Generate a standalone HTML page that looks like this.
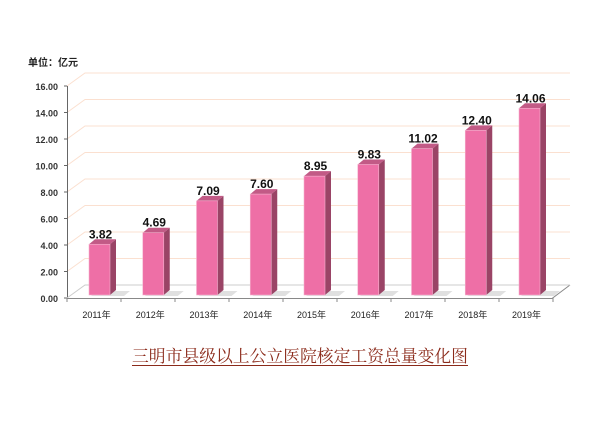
<!DOCTYPE html>
<html><head><meta charset="utf-8"><style>
html,body{margin:0;padding:0;background:#fff;width:600px;height:427px;overflow:hidden}
svg{display:block}
</style></head><body>
<svg width="600" height="427" viewBox="0 0 600 427" xmlns="http://www.w3.org/2000/svg" font-family="Liberation Sans, Noto Sans CJK SC, sans-serif">
<text x="28" y="66" font-size="10" font-weight="bold" fill="#222">单位：亿元</text>
<g stroke="#fbe0d0" stroke-width="1" fill="none" id="grid"></g>
<g id="ax"></g>
<g id="bars"></g>
<text x="300" y="362" text-anchor="middle" font-size="16.8" fill="#8b2a1a" font-family="Liberation Serif, Noto Serif CJK SC, serif" textLength="336" lengthAdjust="spacingAndGlyphs">三明市县级以上公立医院核定工资总量变化图</text>
<line x1="132" y1="365.5" x2="468" y2="365.5" stroke="#8b2a1a" stroke-width="1"/>
<script>
(function(){
var ns="http://www.w3.org/2000/svg";
function el(p,t,a,txt){var e=document.createElementNS(ns,t);for(var k in a)e.setAttribute(k,a[k]);if(txt)e.textContent=txt;p.appendChild(e);return e;}
var g=document.getElementById('grid'),ax=document.getElementById('ax'),b=document.getElementById('bars');
var s=13.25,y0=298;
for(var i=1;i<=8;i++){var y=y0-i*2*s;
 el(g,'polyline',{points:"67,"+y+" 85,"+(y-13)+" 570,"+(y-13)});
}
el(ax,'line',{x1:67.5,y1:86,x2:67.5,y2:298,stroke:'#666'});
for(var i=0;i<=8;i++){var y=y0-i*2*s;
 el(ax,'line',{x1:64,y1:y,x2:67,y2:y,stroke:'#666'});
 el(ax,'text',{x:58,y:y+4,'font-size':9,'font-weight':'bold','text-anchor':'end',fill:'#333'},(i*2).toFixed(2));
}
el(ax,'polyline',{points:"67,298.5 552,298.5 570,285",stroke:'#888',fill:'none'});
el(ax,'polyline',{points:"67,298 85,285 570,285",stroke:'#ccc',fill:'none'});
for(var i=0;i<=9;i++){var x=67+i*54;el(ax,'line',{x1:x,y1:298,x2:x,y2:302,stroke:'#888'});}
var v=[3.82,4.69,7.09,7.60,8.95,9.83,11.02,12.40,14.06];
var yb=295,sc=13.28;
for(var i=0;i<9;i++){
 var x=89+i*53.75,w=21,dx=6,dy=5,ty=yb-v[i]*sc;
 el(b,'polygon',{points:(x+2)+","+(yb+1)+" "+(x+w+dx+8)+","+(yb+1)+" "+(x+w+dx+14)+","+(yb-4)+" "+(x+dx+4)+","+(yb-4),fill:'#ccc',opacity:0.6});
 el(b,'polygon',{points:(x+w)+","+ty+" "+(x+w+dx)+","+(ty-dy)+" "+(x+w+dx)+","+(yb-dy)+" "+(x+w)+","+yb,fill:'#9a4466'});
 el(b,'polygon',{points:x+","+ty+" "+(x+dx)+","+(ty-dy)+" "+(x+w+dx)+","+(ty-dy)+" "+(x+w)+","+ty,fill:'#c25a86'});
 el(b,'rect',{x:x,y:ty,width:w,height:yb-ty,fill:'#ee6fa6',stroke:'#f4b3cf','stroke-width':0.6});
 el(b,'text',{x:x+w/2+1,y:ty-6,'font-size':12,'font-weight':'bold','text-anchor':'middle',fill:'#111'},v[i].toFixed(2));
 el(b,'text',{x:x+w/2-3,y:318,'font-size':9,'text-anchor':'middle',fill:'#222'},(2011+i)+"年");
}
})();
</script>
</svg>
</body></html>
